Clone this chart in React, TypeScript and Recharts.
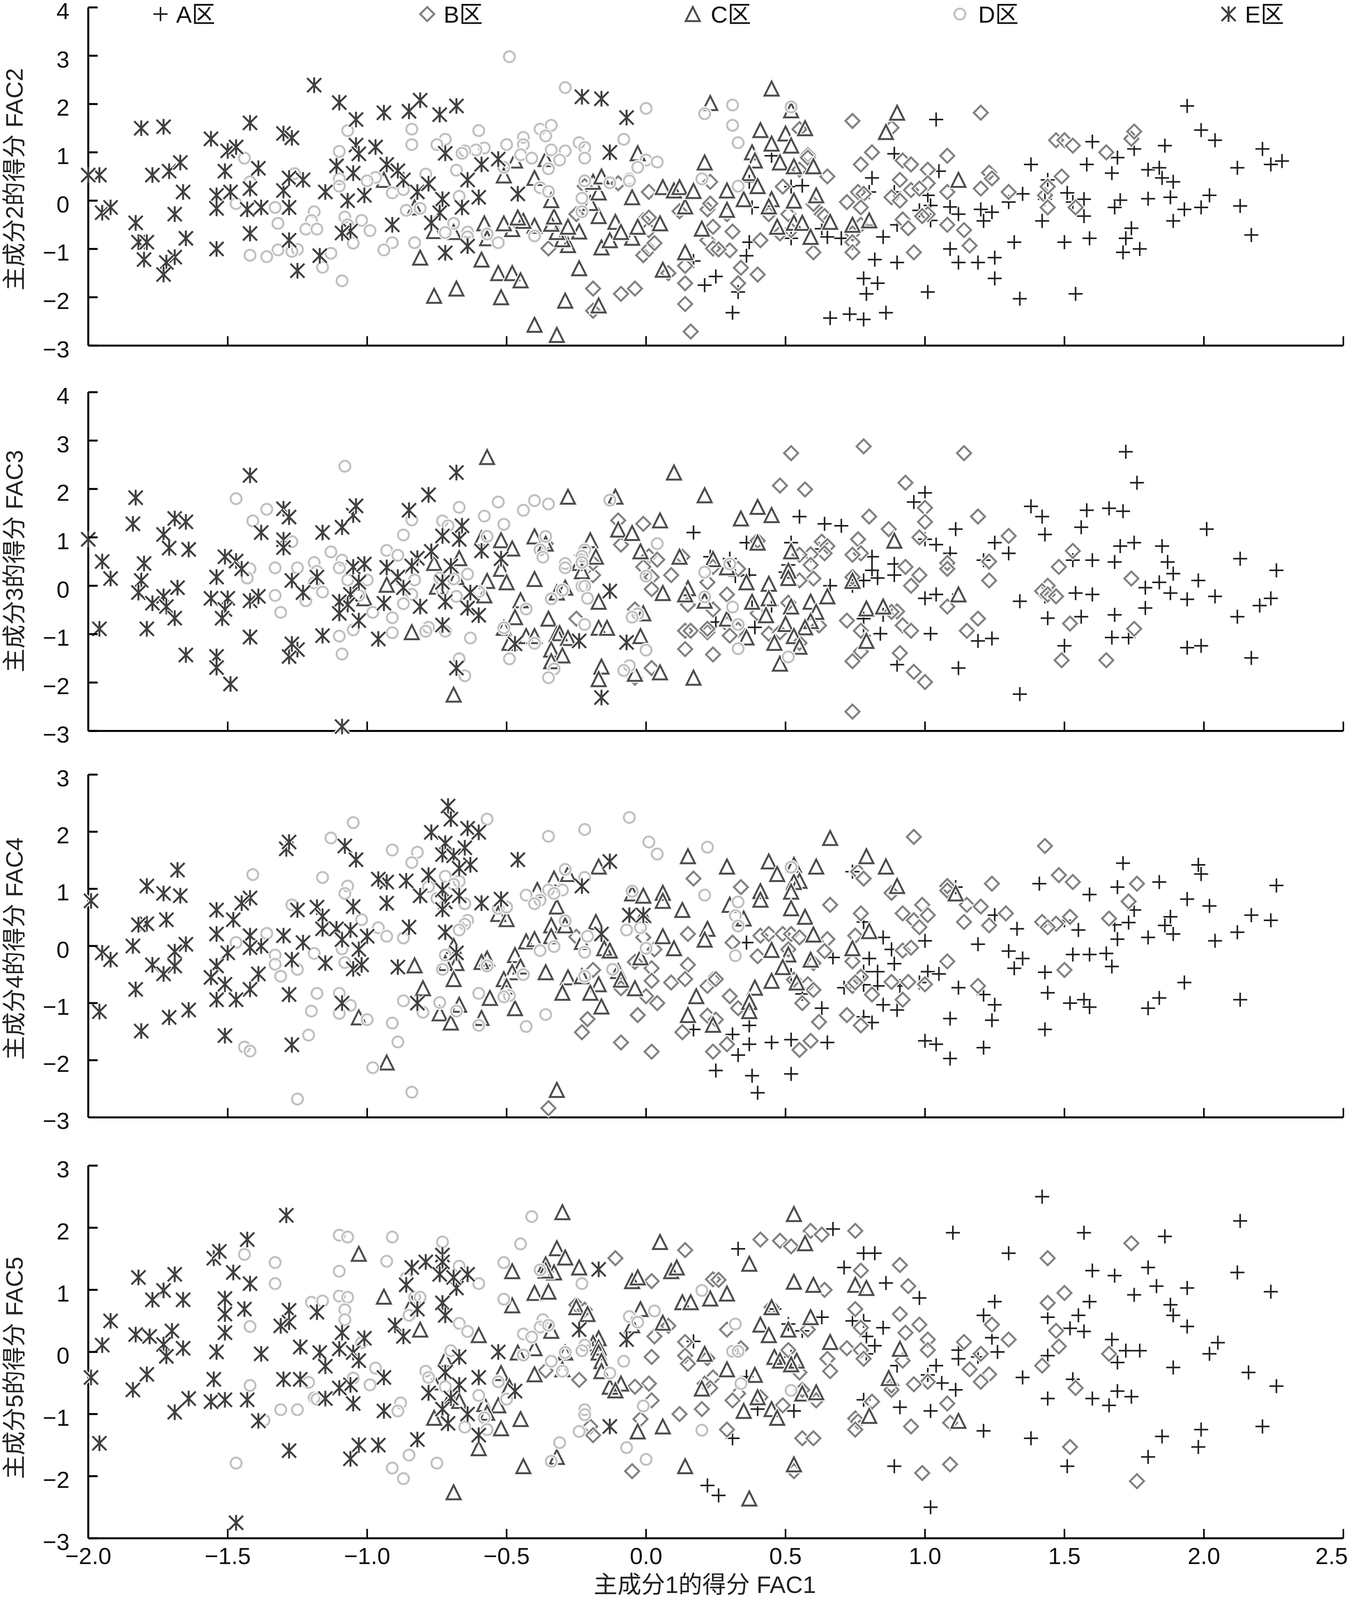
import React from "react";
import { ScatterChart, Scatter, XAxis, YAxis } from "recharts";

type Pt = number[];
const FF = "'Liberation Sans','Noto Sans CJK SC',sans-serif";
const CATEGORIES = ["A区", "B区", "C区", "D区", "E区"];
const X_TICKS = [-2, -1.5, -1, -0.5, 0, 0.5, 1, 1.5, 2, 2.5];
const Y_TICKS_WIDE = [-3, -2, -1, 0, 1, 2, 3, 4];
const Y_TICKS_NARROW = [-3, -2, -1, 0, 1, 2, 3];

const F2_A: Pt[] = [[1.04,1.68],[1.94,1.96],[1.99,1.46],[2.04,1.25],[1.6,1.22],[1.86,1.14],[1.75,1.07],[2.21,1.07],[1.69,0.89],[2.24,0.75],[2.28,0.82],[0.89,0.97],[0.45,0.93],[1.38,0.75],[1.58,0.75],[1.05,0.61],[2.12,0.68],[1.8,0.64],[1.84,0.68],[1.67,0.57],[0.81,0.47],[1.44,0.43],[1.85,0.47],[1.89,0.39],[0.37,0.39],[0.52,0.29],[0.56,0.31],[0.8,0.18],[0.89,0.18],[1.01,0.11],[1.35,0.14],[1.51,0.16],[1.3,-0.03],[1.43,0.03],[1.53,-0.03],[1.57,0.03],[1.7,0.01],[1.8,0.04],[1.88,0.07],[2.02,0.11],[1.68,-0.14],[1.93,-0.18],[1.99,-0.14],[2.13,-0.11],[0.38,-0.14],[1.02,-0.1],[1.09,-0.13],[0.98,-0.2],[1.12,-0.28],[1.24,-0.24],[1.2,-0.18],[1.21,-0.42],[1.02,-0.41],[0.9,-0.5],[1.42,-0.42],[1.57,-0.32],[1.89,-0.42],[1.74,-0.57],[2.17,-0.71],[0.63,-0.58],[0.65,-0.75],[0.7,-0.78],[0.85,-0.75],[0.52,-0.78],[0.37,-0.86],[1.32,-0.86],[1.5,-0.86],[1.59,-0.78],[1.72,-0.78],[1.71,-1.07],[1.77,-1],[1.09,-1],[1.25,-1.18],[0.36,-1.14],[0.82,-1.22],[0.9,-1.28],[1.12,-1.28],[1.19,-1.28],[1.25,-1.61],[0.78,-1.61],[0.83,-1.71],[0.25,-1.57],[0.33,-1.89],[1.01,-1.89],[0.79,-1.93],[1.54,-1.93],[1.34,-2.03],[0.31,-2.32],[0.66,-2.43],[0.73,-2.35],[0.78,-2.46],[0.86,-2.32],[0.17,-1.25],[0.21,-1.75]];
const F2_B: Pt[] = [[-0.35,-0.99],[-0.22,0.3],[-0.25,-0.28],[-0.19,-1.82],[-0.09,-1.93],[-0.04,-1.82],[-0.19,-2.28],[0.16,-2.71],[0.14,-2.14],[0.14,-1.71],[0.14,-1.35],[0.08,-1.5],[-0.01,-1.13],[0.01,-1.01],[0.03,-0.88],[0.01,-0.61],[-0.01,-0.41],[0.01,-0.35],[0.12,-0.22],[0.22,-0.18],[0.23,-0.06],[0.24,-0.54],[0.22,-0.82],[0.24,-0.99],[0.01,0.18],[-0.1,0.36],[0.23,0.39],[0.74,1.65],[1.2,1.82],[0.88,1.51],[0.55,1.48],[0.58,0.94],[0.58,0.89],[0.81,1],[1.08,0.93],[0.77,0.75],[0.92,0.83],[0.95,0.75],[1.01,0.64],[0.55,0.64],[0.65,0.5],[0.91,0.43],[1.01,0.36],[1.23,0.58],[1.24,0.46],[1.2,0.25],[1.08,0.18],[0.95,0.22],[0.98,0.25],[1.3,0.18],[1.43,0.11],[1.44,0.29],[1.49,0.5],[1.47,1.25],[1.5,1.25],[1.53,1.14],[1.65,1],[1.74,1.28],[1.75,1.43],[0.49,0.29],[0.76,0.18],[0.78,0.14],[0.88,0.07],[0.91,0],[0.72,-0.03],[0.6,-0.07],[0.77,-0.14],[1.44,-0.14],[1.54,-0.14],[0.51,-0.28],[0.44,-0.28],[0.29,-0.28],[0.63,-0.28],[0.64,-0.32],[1.01,-0.28],[0.99,-0.32],[0.92,-0.39],[1.08,-0.5],[0.94,-0.57],[1.14,-0.61],[0.77,-0.5],[0.74,-0.68],[0.52,-0.61],[0.48,-0.68],[0.31,-0.64],[0.41,-0.82],[0.74,-0.86],[0.74,-1.07],[0.6,-1.07],[0.96,-1.07],[1.16,-0.93],[0.3,-1.03],[0.26,-1.01],[0.34,-1.39],[0.4,-1.53],[0.33,-1.71]];
const F2_C: Pt[] = [[-0.81,-1.18],[-0.59,-1.22],[-0.53,-1.5],[-0.48,-1.5],[-0.45,-1.65],[-0.76,-1.97],[-0.68,-1.82],[-0.52,-2],[-0.4,-2.57],[-0.32,-2.78],[-0.29,-2.07],[-0.17,-2.17],[-0.24,-1.4],[0.06,-1.43],[0.14,-1.07],[-0.16,-0.97],[-0.28,-0.92],[-0.3,-0.8],[-0.13,-0.82],[-0.05,-0.77],[-0.24,-0.64],[-0.32,-0.65],[-0.4,-0.52],[-0.48,-0.59],[-0.51,-0.47],[-0.58,-0.47],[-0.44,-0.42],[-0.46,-0.35],[-0.34,-0.48],[-0.33,-0.33],[-0.28,-0.54],[-0.17,-0.32],[-0.11,-0.44],[-0.03,-0.54],[-0.09,-0.65],[0.05,-0.47],[0.2,-0.58],[0.14,-0.12],[-0.2,-0.05],[-0.34,0.01],[-0.17,0.17],[-0.05,0.07],[0.06,0.28],[0.1,0.21],[0.12,0.28],[0.17,0.2],[-0.19,0.39],[-0.16,0.5],[-0.4,0.47],[-0.51,0.52],[-0.94,0.43],[-0.47,0.83],[-0.36,0.86],[-0.03,0.98],[0.21,0.79],[0.23,2.02],[-0.83,-0.14],[-0.76,-0.63],[-0.69,-0.65],[-0.57,-0.78],[0.45,2.32],[0.52,1.87],[0.9,1.82],[0.57,1.5],[0.41,1.46],[0.5,1.39],[0.86,1.42],[0.45,1.18],[0.52,1.14],[0.38,1],[0.39,0.83],[0.48,0.79],[0.53,0.71],[0.6,0.71],[0.37,0.57],[1.12,0.43],[0.4,0.3],[0.29,0.21],[0.61,0.11],[0.35,0.03],[0.45,0.03],[0.53,0],[0.44,-0.12],[0.29,-0.19],[0.66,-0.44],[0.8,-0.37],[0.8,-0.41],[0.74,-0.5],[0.53,-0.46],[0.56,-0.46],[0.47,-0.54],[0.59,-0.75]];
const F2_D: Pt[] = [[-0.29,2.34],[-0.49,2.98],[0,1.91],[0.21,1.8],[-0.6,1.45],[-0.84,1.48],[-1.07,1.45],[-0.38,1.48],[-0.34,1.56],[-0.36,1.34],[-0.44,1.31],[-0.44,1.16],[-0.08,1.27],[-0.24,1.2],[-0.22,1.1],[-0.34,1.05],[-0.29,1.03],[-0.22,0.88],[-0.31,0.84],[-0.45,0.95],[-0.41,0.88],[-0.5,1.16],[-0.58,1.09],[-0.61,1.05],[-0.65,1.03],[-0.66,0.98],[-0.72,1.27],[-0.75,1.16],[-0.84,1.16],[-1.1,1.02],[-1.44,0.88],[-0.68,0.63],[-0.51,0.69],[-0.35,0.66],[-0.79,0.55],[-0.97,0.48],[-1,0.41],[-1.1,0.45],[-1.1,0.3],[-1.26,0.56],[-1.42,0.39],[-0.91,0.16],[-0.87,0.23],[-0.67,0.09],[-0.38,0.27],[-0.35,0.19],[-0.22,0.41],[-0.13,0.37],[-0.06,0.45],[-0.06,0.41],[0,0.84],[0.04,0.8],[-0.03,0.69],[0.2,0.45],[-0.23,0.05],[-0.23,-0.23],[-0.81,-0.16],[-0.86,-0.2],[-1.47,-0.06],[-1.33,-0.14],[-1.19,-0.23],[-1.2,-0.41],[-1.08,-0.34],[-1.02,-0.41],[-1.32,-0.47],[-1.22,-0.59],[-1.18,-0.59],[-1.07,-0.5],[-0.99,-0.62],[-0.69,-0.47],[-0.72,-0.66],[-0.64,-0.65],[-0.57,-0.69],[-0.64,-0.75],[-0.4,-0.73],[-0.83,-0.87],[-0.91,-0.87],[-0.53,-0.87],[-0.94,-1.02],[-1.05,-0.88],[-1.32,-1.02],[-1.25,-1.01],[-1.27,-1.05],[-1.13,-1.09],[-1.42,-1.13],[-1.36,-1.16],[-1.16,-1.38],[-1.09,-1.66],[0.31,1.98],[0.52,1.94],[0.31,1.56],[0.33,1.2],[0.33,0.3]];
const F2_E: Pt[] = [[-1.96,0.53],[-2,0.53],[-1.95,-0.25],[-1.92,-0.14],[-1.83,-0.46],[-1.81,1.5],[-1.73,1.53],[-1.82,-0.86],[-1.79,-0.86],[-1.8,-1.22],[-1.69,-1.17],[-1.72,-1.28],[-1.73,-1.53],[-1.69,-0.28],[-1.65,-0.78],[-1.77,0.53],[-1.71,0.61],[-1.67,0.79],[-1.66,0.18],[-1.56,1.28],[-1.5,1.03],[-1.47,1.11],[-1.51,0.61],[-1.39,0.67],[-1.54,0.11],[-1.49,0.18],[-1.42,0.25],[-1.54,-0.16],[-1.42,1.61],[-1.3,1.39],[-1.27,1.3],[-1.3,0.21],[-1.28,0.47],[-1.23,0.43],[-1.43,-0.18],[-1.38,-0.14],[-1.28,-0.14],[-1.42,-0.68],[-1.54,-1],[-1.28,-0.82],[-1.17,-1.14],[-1.25,-1.45],[-1.19,2.39],[-1.1,2.03],[-1.04,1.68],[-0.94,1.82],[-0.85,1.85],[-0.81,2.08],[-0.74,1.78],[-0.68,1.96],[-1.04,1.15],[-0.97,1.11],[-1.03,0.97],[-1.11,0.72],[-0.93,0.75],[-1.05,0.57],[-0.87,0.43],[-0.89,0.62],[-1.15,0.18],[-1.07,0],[-1.01,0.11],[-0.82,0.18],[-0.78,0.35],[-0.73,0.03],[-0.64,0.43],[-0.6,0.07],[-0.66,-0.14],[-0.74,-0.25],[-0.77,-0.46],[-0.91,-0.5],[-1.06,-0.63],[-1.09,-0.67],[-0.72,0.98],[-0.59,0.75],[-0.53,0.86],[-0.13,1],[-0.46,0.14],[-0.23,2.15],[-0.16,2.11],[-0.07,1.72],[-0.64,-0.94],[-0.72,-1.08]];

const F3_A: Pt[] = [[1.72,2.77],[1.76,2.13],[1,1.92],[1.38,1.64],[1.42,1.43],[1.58,1.56],[1.66,1.6],[1.71,1.54],[0.96,1.73],[0.55,1.43],[0.64,1.28],[0.7,1.24],[1.11,1.17],[1.56,1.21],[1.43,1.06],[2.01,1.17],[0.36,0.89],[0.52,0.89],[1.04,0.85],[1,0.96],[1.25,0.89],[1.75,0.89],[1.7,0.82],[1.85,0.82],[0.62,0.76],[1.09,0.67],[1.3,0.67],[0.81,0.6],[0.3,0.56],[1.21,0.53],[1.53,0.53],[1.6,0.53],[1.68,0.49],[1.87,0.49],[2.13,0.56],[0.89,0.45],[0.51,0.43],[2.26,0.32],[0.81,0.32],[0.5,0.28],[1.89,0.25],[0.37,0.22],[0.32,0.2],[0.89,0.22],[0.83,0.16],[0.78,0.11],[1.98,0.11],[1.84,0.07],[1.79,-0.04],[0.66,0],[0.74,0],[1.54,-0.15],[1.6,-0.18],[1.88,-0.15],[1.04,-0.18],[1,-0.26],[1.43,-0.22],[2.04,-0.22],[2.24,-0.26],[1.1,-0.3],[1.94,-0.28],[1.34,-0.32],[2.2,-0.41],[0.45,-0.41],[0.38,-0.45],[1.79,-0.46],[0.85,-0.6],[0.78,-0.68],[1.68,-0.6],[1.44,-0.67],[1.56,-0.64],[2.12,-0.64],[0.25,-0.75],[0.39,-0.86],[0.84,-0.99],[1.02,-0.99],[0.78,-1.03],[1.19,-1.14],[1.24,-1.09],[1.67,-1.07],[1.73,-1.07],[1.5,-1.24],[1.94,-1.28],[1.99,-1.24],[2.17,-1.49],[0.9,-1.63],[1.12,-1.7],[1.34,-2.24],[0.17,1.1],[0.23,0.6]];
const F3_B: Pt[] = [[-0.1,1.35],[-0.01,1.28],[-0.09,0.85],[0.01,0.61],[0.04,0.54],[0.13,0.6],[-0.01,0.39],[0.24,0.39],[0.22,0.07],[-0.19,0.22],[0.02,0.18],[0.09,0.22],[0.02,-0.07],[0.15,-0.39],[0.24,-0.49],[-0.04,-0.49],[-0.25,-0.68],[0.14,-0.93],[0.16,-0.93],[0.22,-0.96],[0.22,-0.89],[0.14,-1.31],[0.24,-1.42],[0.02,-1.7],[-0.04,-1.9],[-0.36,0.87],[-0.19,0.47],[-0.23,0.63],[0.52,2.74],[0.78,2.88],[1.14,2.74],[0.48,2.07],[0.57,1.99],[0.93,2.13],[1,1.61],[1,1.32],[0.8,1.43],[0.87,1.17],[1.19,1.43],[0.98,1],[0.76,0.96],[1.3,1.03],[0.4,0.93],[0.63,0.91],[0.65,0.82],[0.64,0.67],[0.59,0.65],[0.55,0.64],[0.77,0.67],[0.74,0.64],[0.59,0.43],[0.93,0.39],[1.08,0.47],[1.08,0.35],[1.23,0.5],[1.48,0.39],[1.53,0.72],[0.33,0.35],[0.6,0.15],[0.55,0.11],[0.74,0.18],[0.98,0.22],[0.95,0],[1.23,0.11],[1.74,0.15],[1.44,0],[1.42,-0.11],[1.44,-0.18],[1.47,-0.22],[0.29,-0.18],[0.51,-0.35],[0.4,-0.57],[0.9,-0.53],[0.88,-0.54],[1.08,-0.43],[1.19,-0.68],[0.72,-0.72],[0.92,-0.82],[0.95,-0.93],[0.77,-0.93],[1.15,-0.93],[1.52,-0.78],[1.75,-0.89],[0.62,-0.82],[0.29,-0.79],[0.33,-0.91],[0.3,-1.03],[0.44,-0.99],[0.48,-0.96],[0.55,-1.18],[0.77,-1.36],[0.91,-1.39],[0.74,-1.56],[1.49,-1.54],[1.65,-1.54],[0.96,-1.78],[1,-1.99],[0.74,-2.6]];
const F3_C: Pt[] = [[-0.57,2.66],[0.1,2.34],[-0.28,1.84],[-0.11,1.84],[0.21,1.87],[0.05,1.35],[-0.1,1.16],[-0.05,1.09],[-0.4,1.02],[-0.2,0.94],[-0.59,0.98],[-0.52,0.94],[-0.36,0.87],[-0.48,0.77],[-0.02,0.71],[-0.18,0.6],[0.12,0.6],[0.24,0.55],[-0.24,0.47],[-0.52,0.35],[-0.67,0.57],[-0.76,0.47],[-0.23,0.3],[-0.93,0.02],[-0.68,0.18],[-0.57,0.1],[-0.5,0.07],[-0.4,0.14],[-0.75,-0.02],[-0.29,-0.04],[-0.32,-0.14],[0.06,-0.15],[0.15,-0.05],[0.14,-0.18],[0.21,-0.31],[-0.58,-0.2],[-1.01,-0.26],[-0.45,-0.3],[-0.17,-0.33],[-0.47,-0.65],[-0.35,-0.68],[-0.01,-0.57],[-0.17,-0.87],[-0.14,-0.87],[-0.51,-0.87],[-0.43,-1.04],[-0.4,-1.04],[-0.32,-1],[-0.31,-0.98],[-0.28,-1.08],[-0.02,-1.04],[-0.84,-0.96],[-0.49,-1.18],[-0.34,-1.32],[-0.3,-1.44],[-0.34,-1.56],[-0.16,-1.67],[-0.04,-1.82],[0.05,-1.79],[0.17,-1.9],[-0.17,-1.93],[-0.69,-2.25],[0.4,1.63],[0.34,1.39],[0.45,1.46],[0.4,0.89],[0.89,0.93],[0.52,0.71],[0.29,0.38],[0.51,0.31],[0.51,0.16],[0.74,0.1],[0.36,0.07],[0.44,0.04],[0.65,-0.22],[1.12,-0.18],[0.44,-0.26],[0.38,-0.33],[0.59,-0.33],[0.52,-0.43],[0.79,-0.47],[0.85,-0.43],[0.61,-0.54],[0.43,-0.61],[0.29,-0.68],[0.59,-0.73],[0.5,-0.79],[0.57,-0.86],[0.36,-1.07],[0.53,-1.04],[0.46,-1.18],[0.79,-1.14],[0.55,-1.26],[0.48,-1.61]];
const F3_D: Pt[] = [[-1.08,2.47],[-1.47,1.8],[-1.36,1.58],[-1.41,1.34],[-0.67,1.62],[-0.53,1.73],[-0.44,1.56],[-0.4,1.76],[-0.35,1.69],[-0.13,1.77],[-0.58,1.44],[-0.84,1.36],[-0.73,1.34],[-0.71,1.24],[-0.51,1.27],[-0.87,1.05],[-0.57,1.02],[-0.36,1.02],[0.04,0.87],[-1.27,0.91],[-0.93,0.73],[-0.89,0.63],[-1.13,0.7],[-1.09,0.53],[-1.1,0.37],[-1.19,0.48],[-1.25,0.37],[-1.33,0.37],[-1.42,0.35],[-0.38,0.74],[-0.37,0.59],[-0.22,0.74],[-0.23,0.61],[-0.23,0.48],[-0.29,0.46],[-0.29,0.37],[0.21,0.28],[0,0.2],[-0.64,0.24],[-1.43,0.16],[-1.18,0.3],[-1.07,0.12],[-1,0.12],[-0.83,0.12],[-0.74,0.16],[-0.69,0.14],[-1.19,0.06],[-0.23,-0.01],[-0.22,-0.01],[-0.3,-0.09],[-1.16,-0.13],[-1.33,-0.2],[-0.6,-0.12],[-0.73,-0.1],[-0.84,-0.18],[-1.03,-0.2],[-0.34,-0.27],[-0.21,-0.26],[0.21,-0.23],[-1.22,-0.31],[-0.87,-0.37],[-0.68,-0.22],[-1.31,-0.55],[-0.98,-0.55],[-0.91,-0.66],[-0.43,-0.48],[-0.03,-0.58],[-0.05,-0.65],[-0.22,-0.8],[-0.51,-0.87],[-0.78,-0.86],[-0.79,-0.94],[-0.72,-0.94],[-1.05,-0.91],[-1.1,-1.04],[-0.91,-0.97],[-0.63,-1.08],[-0.4,-1.19],[0,-1.33],[-1.09,-1.41],[-0.49,-1.51],[-0.67,-1.51],[-0.65,-1.86],[-0.33,-1.72],[-0.35,-1.9],[-0.06,-1.65],[-0.08,-1.75],[0.3,0.45],[0.31,-0.44],[0.33,-0.8],[0.33,-1.3],[0.51,-1.47]];
const F3_E: Pt[] = [[-1.42,2.28],[-1.83,1.82],[-1.84,1.28],[-1.69,1.39],[-1.65,1.32],[-1.73,1.06],[-1.71,0.78],[-1.64,0.75],[-2,0.96],[-1.95,0.5],[-1.8,0.46],[-1.92,0.15],[-1.81,0.11],[-1.82,-0.14],[-1.68,-0.04],[-1.77,-0.36],[-1.73,-0.22],[-1.72,-0.43],[-1.69,-0.67],[-1.96,-0.89],[-1.79,-0.89],[-1.65,-1.43],[-1.54,-1.46],[-1.54,-1.69],[-1.49,-2.03],[-1.51,0.6],[-1.47,0.51],[-1.45,0.35],[-1.54,0.18],[-1.56,-0.26],[-1.5,-0.26],[-1.42,-0.31],[-1.39,-0.22],[-1.51,-0.49],[-1.52,-0.67],[-1.42,-1.06],[-1.28,-1.46],[-1.25,-1.32],[-1.27,-1.2],[-1.16,-1.03],[-0.96,-1.1],[-1.3,1.59],[-1.28,1.42],[-1.38,1.1],[-1.3,0.95],[-1.3,0.79],[-1.27,0.11],[-1.18,0.18],[-1.23,-0.14],[-1.16,1.1],[-1.09,1.21],[-1.05,1.46],[-1.04,1.65],[-0.85,1.56],[-0.78,1.88],[-0.68,2.34],[-0.66,1.24],[-0.73,1.03],[-0.67,0.96],[-0.59,0.72],[-0.77,0.71],[-0.82,0.57],[-0.52,0.56],[-1.05,0.39],[-1.01,0.45],[-0.93,0.38],[-0.84,0.41],[-0.7,0.41],[-0.89,0.18],[-0.73,0.07],[-1.03,0.07],[-0.87,-0.04],[-0.63,-0.14],[-1.06,-0.18],[-1.07,-0.39],[-1.1,-0.33],[-1.1,-0.57],[-0.94,-0.36],[-0.72,-0.33],[-0.81,-0.43],[-0.64,-0.46],[-1.03,-0.72],[-0.6,-0.61],[-0.73,-0.81],[-0.68,-1.7],[-1.09,-2.91],[-0.16,-2.31],[-0.13,-0.11],[-0.24,-1.14],[-0.07,-1.17],[-0.47,-1.2]];

const F4_A: Pt[] = [[1.71,1.45],[1.98,1.42],[1.99,1.26],[0.74,1.3],[2.26,1.06],[1.84,1.12],[1.69,1.03],[1.41,1.09],[1.11,1.03],[1.59,0.9],[1.94,0.82],[2.02,0.7],[1.75,0.63],[1.88,0.51],[1.25,0.54],[2.17,0.54],[2.24,0.45],[1.5,0.45],[1.68,0.37],[1.73,0.41],[1.86,0.36],[0.78,0.42],[1.55,0.28],[1.33,0.3],[1.89,0.21],[2.12,0.24],[0.85,0.15],[1.69,0.12],[1.8,0.15],[2.04,0.09],[1,0.09],[1.19,0.03],[0.36,0.06],[0.88,-0.06],[1.3,-0.09],[1.65,-0.13],[1.53,-0.15],[1.59,-0.15],[1.35,-0.22],[0.67,-0.2],[0.8,-0.22],[0.89,-0.31],[1.67,-0.36],[1.32,-0.39],[1.43,-0.46],[0.78,-0.45],[0.83,-0.45],[1.01,-0.45],[1.05,-0.49],[0.52,-0.51],[0.78,-0.68],[0.83,-0.7],[0.91,-0.7],[0.98,-0.64],[1.12,-0.73],[0.71,-0.73],[0.56,-0.84],[1.21,-0.85],[1.44,-0.82],[1.93,-0.64],[1.57,-0.94],[0.63,-1.09],[0.85,-1.03],[1.25,-1.03],[1.52,-1],[1.59,-1.07],[1.84,-0.91],[1.8,-1.09],[2.13,-0.94],[0.9,-1.12],[0.78,-1.24],[0.81,-1.34],[1.09,-1.27],[1.24,-1.3],[0.37,-1.39],[0.31,-1.55],[1.43,-1.46],[0.37,-1.72],[0.45,-1.69],[0.52,-1.64],[0.65,-1.69],[1,-1.66],[1.04,-1.72],[1.21,-1.78],[0.33,-1.91],[1.09,-1.97],[0.25,-2.18],[0.38,-2.27],[0.52,-2.24],[0.4,-2.57],[0.17,-1.46]];
const F4_B: Pt[] = [[0.17,1.18],[-0.01,0.15],[0.15,0.21],[-0.25,0.16],[0.03,-0.06],[-0.04,-0.28],[0.15,-0.33],[0.02,-0.39],[-0.19,-0.42],[0.02,-0.61],[0.09,-0.64],[0.14,-0.58],[0.24,-0.59],[0.22,-0.7],[-0.09,-0.74],[0,-0.88],[0.04,-1],[-0.03,-1.21],[-0.21,-1.28],[-0.23,-1.51],[0.13,-1.51],[-0.09,-1.69],[0.02,-1.85],[0.24,-1.85],[0.22,-1.22],[-0.35,-2.84],[0.96,1.91],[1.43,1.75],[1.48,1.24],[0.76,1.3],[0.78,1.18],[1.53,1.12],[1.24,1.09],[1.08,1.05],[1.08,0.97],[0.34,1.03],[0.88,0.93],[1.76,1.09],[0.66,0.72],[0.99,0.72],[1.15,0.72],[1.2,0.69],[1.73,0.78],[0.77,0.57],[0.92,0.57],[1.01,0.54],[1.29,0.57],[0.96,0.45],[0.98,0.33],[1.14,0.42],[1.23,0.36],[1.42,0.42],[1.47,0.39],[1.44,0.33],[1.52,0.51],[1.66,0.48],[0.41,0.18],[0.44,0.21],[0.49,0.21],[0.52,0.21],[0.55,0.15],[0.65,0.12],[0.75,0.18],[0.31,0.06],[0.51,-0.06],[0.64,-0.09],[0.92,-0.08],[0.95,-0.03],[0.4,-0.18],[0.6,-0.3],[0.74,-0.27],[1.08,-0.27],[1.5,-0.42],[0.77,-0.54],[0.74,-0.7],[0.75,-0.64],[0.88,-0.63],[0.94,-0.63],[1,-0.67],[1.19,-0.7],[0.53,-0.59],[0.58,-0.67],[0.6,-0.77],[0.25,-0.58],[0.3,-0.88],[0.81,-0.85],[0.92,-0.94],[0.56,-1],[0.33,-1.09],[0.72,-1.21],[0.62,-1.33],[0.77,-1.39],[0.25,-1.29],[0.59,-1.66],[0.55,-1.82],[0.29,-1.72]];
const F4_C: Pt[] = [[0.15,1.57],[-0.17,1.39],[-0.33,1.18],[-0.28,1.26],[-0.39,0.98],[-0.05,0.92],[-0.01,0.88],[0.06,0.93],[0.06,0.79],[-0.32,0.69],[0.13,0.63],[-0.53,0.56],[-0.5,0.47],[-0.01,0.54],[-0.34,0.36],[-0.29,0.36],[-0.18,0.42],[0.22,0.3],[-0.34,0.17],[-0.43,0.08],[-0.4,0.12],[-0.23,0.07],[0.06,0.17],[0.21,0.11],[0.1,-0.04],[-0.15,-0.04],[-0.13,-0.08],[-0.47,-0.16],[-0.69,0],[-0.57,-0.22],[-0.59,-0.28],[-0.83,-0.34],[-0.68,-0.3],[-0.72,-0.3],[-0.02,-0.2],[-0.45,-0.36],[-0.48,-0.46],[-0.36,-0.46],[-0.1,-0.44],[-0.28,-0.55],[-0.23,-0.53],[-0.69,-0.58],[-0.51,-0.58],[-0.5,-0.71],[-0.09,-0.59],[-0.8,-0.74],[-0.17,-0.67],[-0.04,-0.74],[-0.3,-0.82],[-0.2,-0.82],[-0.56,-0.91],[0.18,-0.88],[-0.16,-1.06],[-0.47,-1.09],[-0.67,-1.03],[-0.74,-1.18],[0.15,-1.21],[-0.59,-1.26],[-0.7,-1.34],[-1.03,-1.25],[0.24,-1.38],[-0.93,-2.04],[-0.32,-2.52],[0.66,1.89],[0.79,1.57],[0.44,1.48],[0.53,1.42],[0.61,1.39],[0.86,1.39],[0.29,1.39],[0.47,1.26],[0.55,1.14],[0.53,1.12],[0.9,1.05],[0.41,0.96],[0.52,0.95],[1.11,0.92],[0.41,0.81],[0.3,0.72],[0.52,0.66],[0.57,0.51],[0.35,0.48],[0.8,0.26],[0.6,0.2],[0.45,-0.07],[0.74,-0.04],[0.51,-0.15],[0.59,-0.24],[0.49,-0.37],[0.45,-0.61],[0.54,-0.64],[0.39,-0.73],[0.37,-0.98],[0.37,-1.14]];
const F4_D: Pt[] = [[-0.06,2.25],[-0.57,2.22],[-1.05,2.16],[-0.22,2.04],[-0.35,1.92],[-1.13,1.89],[0.01,1.82],[0.22,1.73],[-0.91,1.68],[-0.82,1.64],[0.04,1.61],[-0.84,1.46],[-1.41,1.25],[-1.16,1.2],[-0.72,1.22],[-0.29,1.34],[-0.22,1.2],[-1.07,1.05],[-1.08,0.92],[-0.78,1.04],[-0.67,1.13],[-0.69,1.08],[-0.35,0.98],[-0.3,0.98],[-0.33,0.92],[-0.05,0.96],[0.21,0.89],[-0.43,0.89],[-0.38,0.8],[-0.4,0.74],[-1.27,0.72],[-0.65,0.74],[-0.75,0.83],[-0.53,0.66],[-0.5,0.68],[-1.02,0.46],[-0.64,0.45],[-0.65,0.38],[-0.67,0.28],[-0.29,0.44],[-0.96,0.32],[-0.07,0.28],[-0.02,0.32],[-1.36,0.22],[-0.93,0.17],[-0.87,0.14],[-0.21,0.17],[-1.47,0.06],[-0.33,-0.01],[-0.38,-0.08],[-0.22,-0.11],[0,-0.04],[-1.09,-0.05],[-1.33,-0.16],[-1.19,-0.13],[-0.72,-0.16],[-1.08,-0.29],[-1.33,-0.32],[-1.25,-0.41],[-1.31,-0.53],[-0.73,-0.41],[-0.57,-0.35],[-0.44,-0.5],[-0.22,-0.53],[-0.12,-0.41],[-1.18,-0.83],[-1.1,-0.83],[-0.6,-0.83],[-0.49,-0.87],[-0.51,-0.89],[-0.87,-0.96],[-0.74,-0.99],[-1.06,-1.04],[-1.2,-1.14],[-1.1,-1.18],[-0.8,-1.16],[-0.68,-1.14],[-0.36,-1.2],[-1,-1.29],[-0.91,-1.35],[-0.6,-1.39],[-0.43,-1.41],[-1.21,-1.56],[-0.89,-1.68],[-1.44,-1.77],[-1.42,-1.84],[-0.98,-2.13],[-0.84,-2.56],[-1.25,-2.68],[0.52,1.38],[0.33,0.77],[0.32,0.53],[0.33,0.35],[0.32,-0.17]];
const F4_E: Pt[] = [[-0.71,2.45],[-0.7,2.22],[-0.77,1.99],[-0.64,2.06],[-0.6,1.99],[-0.72,1.8],[-0.65,1.72],[-0.73,1.6],[-0.69,1.58],[-0.63,1.42],[-0.67,1.36],[-0.46,1.51],[-0.13,1.48],[-0.23,1.05],[-1.29,1.7],[-1.28,1.82],[-1.08,1.75],[-1.04,1.51],[-1.68,1.33],[-1.79,1.05],[-1.73,0.92],[-1.67,0.88],[-1.42,0.84],[-1.45,0.75],[-1.99,0.79],[-1.54,0.63],[-1.25,0.63],[-1.18,0.68],[-1.16,0.52],[-1.05,0.69],[-0.93,0.75],[-0.93,1.12],[-0.96,1.17],[-0.86,1.14],[-0.78,1.24],[-0.73,0.98],[-0.81,0.88],[-0.67,0.88],[-0.72,0.77],[-0.73,0.64],[-0.59,0.75],[-0.52,0.82],[-0.06,0.54],[-0.01,0.54],[-1.79,0.39],[-1.82,0.37],[-1.72,0.46],[-1.48,0.46],[-1.54,0.21],[-1.42,0.18],[-1.3,0.18],[-1.16,0.3],[-1.06,0.28],[-1.11,0.3],[-1.23,0.06],[-1.09,0.11],[-1,0.17],[-0.85,0.33],[-0.72,0.24],[-0.16,0.21],[-1.84,0],[-1.65,0.03],[-1.38,0],[-1.42,-0.03],[-1.95,-0.12],[-1.92,-0.24],[-1.69,-0.1],[-1.5,-0.12],[-1.03,-0.06],[-0.68,-0.12],[-1.77,-0.33],[-1.69,-0.35],[-1.73,-0.49],[-1.54,-0.35],[-1.27,-0.24],[-1.15,-0.3],[-1.05,-0.4],[-1.02,-0.33],[-0.89,-0.37],[-1.56,-0.55],[-1.51,-0.67],[-1.39,-0.49],[-1.83,-0.76],[-1.42,-0.76],[-1.54,-0.94],[-1.47,-0.94],[-1.28,-0.85],[-1.09,-1],[-0.82,-1],[-1.64,-1.12],[-1.96,-1.15],[-1.71,-1.25],[-1.81,-1.49],[-1.51,-1.57],[-1.27,-1.73]];

const F5_A: Pt[] = [[1.42,2.5],[2.13,2.11],[0.67,1.98],[1.1,1.92],[1.57,1.92],[1.86,1.86],[0.33,1.66],[0.78,1.59],[0.82,1.59],[1.3,1.59],[0.71,1.36],[1.8,1.36],[1.6,1.31],[1.68,1.23],[2.12,1.28],[0.86,1.11],[1.83,1.06],[1.94,1.03],[2.24,0.97],[1.75,0.92],[0.98,0.87],[1.25,0.81],[1.59,0.81],[1.88,0.76],[0.46,0.69],[1.21,0.59],[1.44,0.56],[1.55,0.59],[1.89,0.59],[0.63,0.56],[0.74,0.5],[0.78,0.5],[0.51,0.45],[1.52,0.38],[1.57,0.33],[0.85,0.39],[1.94,0.41],[0.56,0.34],[0.79,0.25],[1.24,0.23],[1.67,0.2],[2.05,0.15],[0.82,0.1],[1.12,0.03],[1.26,0],[1.72,0.02],[1.77,0.02],[2.02,-0.03],[0.52,-0.08],[0.79,-0.03],[1.12,-0.11],[1.19,-0.08],[1.44,-0.06],[1.69,-0.17],[0.9,-0.22],[1.04,-0.22],[1.89,-0.25],[1.35,-0.41],[2.16,-0.33],[1.53,-0.44],[0.36,-0.4],[1.01,-0.37],[1.06,-0.5],[1.11,-0.61],[2.26,-0.55],[1.69,-0.63],[1.74,-0.72],[1.44,-0.75],[1.6,-0.75],[1.66,-0.86],[0.78,-0.77],[0.91,-0.89],[1.02,-0.95],[0.4,-0.92],[0.53,-0.95],[1.21,-1.27],[1.38,-1.39],[1.85,-1.36],[1.99,-1.25],[2.21,-1.2],[1.98,-1.53],[0.31,-1.39],[1.8,-1.69],[0.89,-1.84],[1.51,-1.84],[1.02,-2.5],[0.26,-2.31],[0.17,0.17],[0.22,-2.15]];
const F5_B: Pt[] = [[0.14,1.64],[-0.11,1.51],[0.24,1.17],[0.02,1.14],[-0.25,0.76],[-0.22,0.68],[0.08,0.42],[0.03,0.25],[0.14,0.16],[0.14,-0.06],[0.02,-0.08],[0.15,-0.19],[0.22,-0.1],[-0.36,-0.3],[-0.24,-0.45],[0.24,-0.41],[0.21,-0.51],[0.23,-0.58],[0.01,-0.51],[-0.04,-0.56],[0.02,-0.78],[0.2,-0.92],[0.12,-1],[-0.02,-1.08],[-0.2,-1.2],[-0.19,-1.34],[-0.05,-1.92],[0.59,1.95],[0.63,1.89],[0.75,1.95],[0.41,1.81],[0.48,1.79],[0.52,1.7],[1.74,1.75],[1.44,1.51],[0.91,1.4],[0.77,1.31],[0.94,1.06],[0.64,1],[0.26,1.16],[1.5,0.95],[1.44,0.79],[0.45,0.72],[0.75,0.69],[0.91,0.61],[0.98,0.44],[1.24,0.44],[0.77,0.39],[0.58,0.36],[0.29,0.36],[1.47,0.34],[0.93,0.31],[1.01,0.2],[1.14,0.16],[1.3,0.2],[1.48,0.09],[0.72,0.06],[0.77,0.03],[1.01,0.03],[0.51,0.03],[0.34,0.06],[1.2,-0.03],[1.66,-0.03],[0.65,-0.11],[0.78,-0.11],[0.92,-0.14],[1.42,-0.22],[0.55,-0.33],[0.66,-0.31],[1.16,-0.28],[1.23,-0.36],[1.2,-0.48],[1.01,-0.48],[0.96,-0.52],[0.88,-0.54],[0.88,-0.61],[1.54,-0.58],[0.33,-0.67],[0.31,-0.78],[0.56,-0.61],[0.41,-0.73],[0.49,-0.86],[0.61,-0.78],[0.81,-0.8],[1.08,-0.83],[0.75,-1.07],[0.76,-1.12],[1.09,-1.14],[0.75,-1.25],[0.29,-1.25],[0.95,-1.2],[0.56,-1.39],[0.6,-1.39],[1.52,-1.53],[1.09,-1.81],[0.99,-1.95],[0.53,-1.92],[1.76,-2.08]];
const F5_C: Pt[] = [[-0.3,2.25],[-1.03,1.58],[0.05,1.77],[-0.32,1.67],[-0.29,1.52],[-0.48,1.3],[-0.36,1.41],[-0.33,1.28],[-0.36,1.31],[-0.24,1.36],[-0.05,1.14],[-0.03,1.2],[0.09,1.3],[0.11,1.36],[-0.4,0.95],[-0.35,0.97],[-0.94,0.89],[-0.48,0.75],[-0.25,0.72],[-0.21,0.61],[-0.02,0.69],[0.13,0.8],[0.16,0.8],[0.23,0.86],[-0.84,0.78],[-0.05,0.43],[0.06,0.47],[-0.81,0.36],[-0.6,0.27],[-0.34,0.34],[-0.17,0.22],[-0.19,0.14],[-0.46,-0.01],[-0.4,0.06],[-0.29,-0.01],[-0.17,0.07],[-0.17,-0.01],[0.21,-0.03],[-0.72,-0.12],[-0.16,-0.15],[-0.3,-0.28],[-0.52,-0.34],[-0.4,-0.36],[-0.16,-0.31],[-0.76,-0.49],[-0.49,-0.56],[-0.13,-0.56],[-0.09,-0.51],[-0.11,-0.62],[0.2,-0.59],[-0.7,-0.72],[-0.58,-0.84],[-0.53,-0.86],[-0.67,-0.79],[-0.57,-0.98],[-0.76,-1.06],[-0.45,-1.08],[-0.52,-1.23],[-0.03,-1.28],[0.06,-1.2],[-0.6,-1.55],[-0.32,-1.69],[-0.44,-1.84],[0.14,-1.84],[-0.69,-2.26],[0.53,2.22],[0.57,1.75],[0.37,1.42],[0.53,1.13],[0.6,1.08],[0.75,1.08],[0.79,1.03],[0.29,0.94],[0.45,0.72],[0.59,0.56],[0.41,0.44],[0.51,0.36],[0.44,0.27],[0.66,0.16],[0.91,0.05],[0.46,-0.08],[0.48,-0.14],[0.54,-0.14],[0.52,-0.2],[0.29,-0.28],[0.39,-0.37],[0.87,-0.42],[0.56,-0.67],[0.61,-0.65],[0.4,-0.73],[0.35,-0.95],[0.45,-0.92],[0.47,-1.06],[0.8,-1.03],[1.12,-1.11],[0.53,-1.81],[0.37,-2.36]];
const F5_D: Pt[] = [[-0.41,2.18],[-1.1,1.88],[-1.07,1.85],[-0.91,1.85],[-0.73,1.77],[-0.45,1.74],[-1.44,1.57],[-1.33,1.44],[-0.93,1.46],[-0.51,1.44],[-0.67,1.38],[-1.1,1.3],[-0.38,1.32],[-1.33,1.1],[-0.6,1.1],[-0.86,1.19],[-0.23,1.1],[0.2,0.99],[-1.1,0.9],[-1.07,0.88],[-0.83,0.88],[-0.81,0.88],[-0.51,0.85],[-1.2,0.8],[-1.16,0.82],[-1.08,0.68],[0.03,0.66],[-0.06,0.57],[-0.03,0.48],[-1.08,0.52],[-0.85,0.59],[-1.42,0.41],[-0.67,0.46],[-0.64,0.33],[-0.37,0.52],[-0.38,0.4],[-0.35,0.43],[-0.44,0.29],[-0.41,0.24],[-0.22,0.11],[-0.23,0.02],[-0.29,-0.01],[-1.02,0.15],[-0.7,0.02],[-0.44,-0.05],[-0.34,-0.15],[-0.08,-0.15],[-0.97,-0.26],[-0.79,-0.31],[-0.78,-0.41],[-0.3,-0.31],[-0.13,-0.34],[-1.42,-0.54],[-1.21,-0.49],[-1.05,-0.42],[-0.99,-0.53],[-0.72,-0.56],[-0.53,-0.48],[-0.6,-0.7],[-0.5,-0.76],[-1.19,-0.74],[-1.18,-0.76],[-0.88,-0.82],[-0.01,-0.87],[-1.31,-0.93],[-1.25,-0.93],[-0.89,-0.95],[-0.22,-0.93],[-0.22,-1.01],[-1.37,-1.1],[-0.58,-1.06],[-0.65,-1.21],[-0.57,-1.25],[-0.24,-1.28],[0.2,-1.26],[-0.31,-1.46],[-0.07,-1.54],[-0.85,-1.66],[-0.34,-1.76],[0,-1.73],[-1.47,-1.79],[-0.91,-1.87],[-0.75,-1.79],[-0.87,-2.04],[0.32,0.45],[0.31,0.01],[0.33,0.01],[0.34,-0.51],[0.52,-0.62]];
const F5_E: Pt[] = [[-1.29,2.2],[-1.43,1.81],[-1.55,1.51],[-1.53,1.62],[-1.48,1.28],[-1.42,1.1],[-1.82,1.2],[-1.69,1.25],[-1.73,0.99],[-1.77,0.84],[-1.66,0.84],[-1.51,0.86],[-1.51,0.61],[-1.44,0.69],[-1.28,0.67],[-1.18,0.64],[-1.92,0.5],[-1.28,0.48],[-1.31,0.42],[-1.83,0.28],[-1.78,0.25],[-1.7,0.34],[-1.51,0.31],[-1.95,0.11],[-1.73,0.12],[-1.66,0.06],[-1.54,0],[-1.38,-0.03],[-1.72,-0.07],[-1.24,0.08],[-1.17,-0.01],[-1.1,0.05],[-1.05,-0.01],[-1.09,0.31],[-1.01,0.22],[-1.03,-0.14],[-1.15,-0.23],[-0.94,-0.41],[-1.79,-0.36],[-1.99,-0.41],[-1.55,-0.44],[-1.3,-0.44],[-1.24,-0.44],[-1.84,-0.61],[-1.06,-0.53],[-1.1,-0.58],[-1.64,-0.75],[-1.56,-0.8],[-1.51,-0.77],[-1.43,-0.77],[-1.15,-0.75],[-1.05,-0.83],[-1.69,-0.97],[-0.94,-0.95],[-1.39,-1.11],[-1.96,-1.47],[-1.28,-1.59],[-1.03,-1.5],[-0.96,-1.5],[-1.06,-1.72],[-0.82,-1.41],[-0.6,-1.34],[-0.13,-1.2],[-1.47,-2.75],[-0.84,1.36],[-0.79,1.45],[-0.73,1.56],[-0.73,1.45],[-0.74,1.25],[-0.64,1.25],[-0.68,1.03],[-0.69,1.2],[-0.86,1.08],[-0.73,0.79],[-0.82,0.69],[-0.72,0.59],[-0.9,0.43],[-0.87,0.25],[-0.17,1.33],[-0.24,0.36],[-0.07,0.2],[-0.53,0],[-0.67,-0.08],[-0.72,-0.33],[-0.6,-0.41],[-0.67,-0.53],[-0.78,-0.66],[-0.7,-0.74],[-0.47,-0.63],[-0.73,-0.92],[-0.64,-1],[-0.71,-1.15]];

const toRows = (pts: Pt[]) => pts.map(([x, y]) => ({ x, y }));

const STYLE: Record<string, { color: string; width: number }> = {
  A: { color: "#1f1f1f", width: 4 },
  B: { color: "#808080", width: 5 },
  C: { color: "#4d4d4d", width: 5 },
  D: { color: "#c0c0c0", width: 5 },
  E: { color: "#404040", width: 5 },
};

function markPath(kind: string, cx: number, cy: number): string {
  if (kind === "A") return `M${cx - 18} ${cy}H${cx + 18}M${cx} ${cy - 18}V${cy + 18}`;
  if (kind === "B") return `M${cx} ${cy - 18}L${cx + 18} ${cy}L${cx} ${cy + 18}L${cx - 18} ${cy}Z`;
  if (kind === "C") return `M${cx} ${cy - 18}L${cx + 18} ${cy + 18}H${cx - 18}Z`;
  if (kind === "D") return `M${cx - 14} ${cy}a14 14 0 1 0 28 0a14 14 0 1 0 -28 0Z`;
  return `M${cx} ${cy - 20}V${cy + 20}M${cx - 18} ${cy - 18}L${cx + 18} ${cy + 18}M${cx - 18} ${cy + 18}L${cx + 18} ${cy - 18}`;
}

function Mark({ kind, cx, cy, halo = true }: { kind: string; cx: number; cy: number; halo?: boolean }) {
  const s = STYLE[kind];
  const d = markPath(kind, cx, cy);
  return (
    <g>
      {halo && <path d={d} fill="none" stroke="#fff" strokeWidth={s.width + 5} />}
      <path d={d} fill="none" stroke={s.color} strokeWidth={s.width} />
    </g>
  );
}

const shapeOf = (kind: string) => (p: any) => <Mark kind={kind} cx={p.cx} cy={p.cy} />;
const xFmt = (v: number) => (v < 0 ? "\u2212" : "") + Math.abs(v).toFixed(1);
const yFmt = (v: number) => (v < 0 ? "\u2212" : "") + Math.abs(v);

// The browser window is 4096px tall at most, so the reference's 5238px of layout is fitted to it.
const K = 4096 / 5238;

interface PanelCfg {
  title: string; titleY: number; top: number; bottom: number; domain: number[]; ticks: number[];
  series: Record<string, Pt[]>; showX: boolean;
}

const PANELS: PanelCfg[] = [
  { title: "主成分2的得分 FAC2", titleY: 587 * K, top: 24.5 * K, bottom: 1131.5 * K, domain: [-3, 4], ticks: Y_TICKS_WIDE, series: { A: F2_A, B: F2_B, C: F2_C, D: F2_D, E: F2_E }, showX: false },
  { title: "主成分3的得分 FAC3", titleY: 1837 * K, top: 1284 * K, bottom: 2393 * K, domain: [-3, 4], ticks: Y_TICKS_WIDE, series: { A: F3_A, B: F3_B, C: F3_C, D: F3_D, E: F3_E }, showX: false },
  { title: "主成分4的得分 FAC4", titleY: 3106 * K, top: 2536 * K, bottom: 3658 * K, domain: [-3, 3], ticks: Y_TICKS_NARROW, series: { A: F4_A, B: F4_B, C: F4_C, D: F4_D, E: F4_E }, showX: false },
  { title: "主成分5的得分 FAC5", titleY: 4478 * K, top: 3816 * K, bottom: 5036 * K, domain: [-3, 3], ticks: Y_TICKS_NARROW, series: { A: F5_A, B: F5_B, C: F5_C, D: F5_D, E: F5_E }, showX: true },
];

const AXIS_LEFT = 226;
const AXIS_RIGHT = 3440;
const PAD = 50;
const PAD_BOTTOM = 100;

function Panel({ cfg }: { cfg: PanelCfg }) {
  const h = cfg.bottom - cfg.top + PAD + PAD_BOTTOM;
  const axisLine = { stroke: "#000", strokeWidth: 5 };
  return (
    <div style={{ position: "absolute", left: 0, top: cfg.top - PAD }}>
      <ScatterChart width={3457} height={h} margin={{ top: PAD, right: 3457 - AXIS_RIGHT, bottom: PAD_BOTTOM - 1, left: AXIS_LEFT - 1 }} style={{ overflow: "visible" }}>
        <XAxis
          type="number" dataKey="x" domain={[-2, 2.5]} ticks={X_TICKS} interval={0} height={1}
          tickSize={0} tickMargin={0} tickLine={false} axisLine={axisLine}
          tick={(p: any) => (
            <g>
              <line x1={p.x} x2={p.x} y1={p.y} y2={p.y - 24} stroke="#000" strokeWidth={4} />
              {cfg.showX && (
                <text x={Math.min(p.x, 3410)} y={p.y + 66} textAnchor="middle" fontFamily={FF} fontSize={60} fill="#111">
                  {xFmt(p.payload.value)}
                </text>
              )}
            </g>
          )}
        />
        <YAxis
          type="number" dataKey="y" domain={cfg.domain} ticks={cfg.ticks} interval={0} width={1}
          tickSize={0} tickMargin={0} tickLine={false} axisLine={axisLine}
          tick={(p: any) => (
            <g>
              <line x1={p.x} x2={p.x + 24} y1={p.y} y2={p.y} stroke="#000" strokeWidth={5} />
              <text x={p.x - 48} y={p.y + 30} textAnchor="end" fontFamily={FF} fontSize={60} fill="#111">
                {yFmt(p.payload.value)}
              </text>
            </g>
          )}
        />
        {Object.keys(cfg.series).map((k, i) => (
          <Scatter key={k} name={CATEGORIES[i]} data={toRows(cfg.series[k])} shape={shapeOf(k)} isAnimationActive={false} />
        ))}
      </ScatterChart>
    </div>
  );
}

const LEGEND_POS = [
  { kind: "A", mx: 411, tx: 451 },
  { kind: "B", mx: 1094, tx: 1136 },
  { kind: "C", mx: 1774, tx: 1820 },
  { kind: "D", mx: 2458, tx: 2505 },
  { kind: "E", mx: 3146, tx: 3188 },
];

export default function App() {
  return (
    <div style={{ position: "absolute", left: 0, top: 0, width: 3457, height: 4096, background: "#fff", overflow: "hidden" }}>
      {PANELS.map((c) => <Panel key={c.title} cfg={c} />)}
      <svg width={3457} height={4096} style={{ position: "absolute", left: 0, top: 0, pointerEvents: "none" }}>
        {LEGEND_POS.map((l, i) => (
          <g key={l.kind}>
            <Mark kind={l.kind} cx={l.mx} cy={36} halo={false} />
            <text x={l.tx} y={58} fontFamily={FF} fontSize={60} fill="#111">{CATEGORIES[i]}</text>
          </g>
        ))}
        {PANELS.map((c) => (
          <text key={c.title} transform={`translate(58,${c.titleY}) rotate(-90)`} textAnchor="middle" fontFamily={FF} fontSize={61} fill="#222">
            {c.title}
          </text>
        ))}
        <text x={1805} y={4078} textAnchor="middle" fontFamily={FF} fontSize={61} fill="#222">主成分1的得分 FAC1</text>
      </svg>
    </div>
  );
}
